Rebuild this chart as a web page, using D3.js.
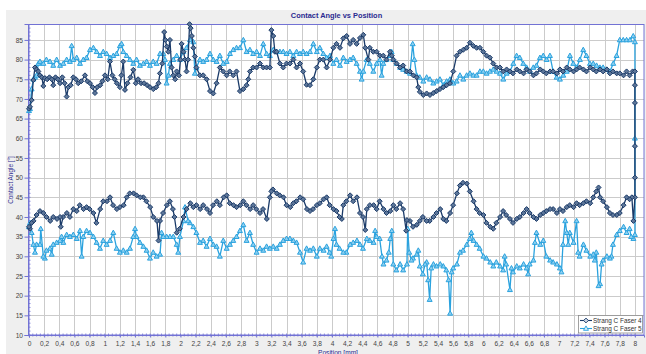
<!DOCTYPE html>
<html>
<head>
<meta charset="utf-8">
<script src="https://cdn.jsdelivr.net/npm/d3@7"></script>
<style>
  html, body { margin: 0; padding: 0; background: #ffffff; }
  svg { display: block; font-family: "Liberation Sans", Arial, sans-serif; }
</style>
</head>
<body>
<svg id="chart" width="646" height="354"></svg>
<script>
// ---- data: contact angle [°] over position [mm]; each series runs along the upper branch 0 → 8 mm, then back along the lower branch 8 → 0 mm
const seriesNames = ["Strang C Faser 4", "Strang C Faser 5"];

const faser4Upper = [
  [0,67.5],[0.013,68],[0.035,69.7],[0.057,74.8],[0.079,78],[0.1,77.5],[0.123,77],[0.145,76],[0.17,75.5],[0.189,73.3],
  [0.21,75.3],[0.24,75],[0.27,75.5],[0.3,75],[0.32,73.5],[0.35,75.5],[0.38,75],[0.41,74],[0.44,75.5],[0.47,74],
  [0.497,70.6],[0.52,73],[0.55,73.5],[0.585,75.5],[0.62,75],[0.65,74],[0.69,74.5],[0.739,76],[0.77,74.5],[0.805,74],
  [0.84,73],[0.871,71.5],[0.9,73],[0.94,73.5],[0.97,74.5],[1.003,76],[1.04,75],[1.069,79.5],[1.1,76],[1.13,75],
  [1.16,74],[1.2,73],[1.22,76],[1.245,79.5],[1.267,72.3],[1.3,74],[1.34,75.5],[1.377,77.4],[1.41,74],[1.44,75],
  [1.48,74],[1.52,74],[1.56,73.5],[1.597,73],[1.641,72.5],[1.68,73],[1.71,74],[1.729,76.5],[1.76,79],[1.785,87],
  [1.8,85],[1.82,83.3],[1.84,82],[1.861,85],[1.883,78],[1.905,76],[1.93,75],[1.949,77],[1.98,76],[2.0,80],
  [2.015,84],[2.04,82],[2.06,80],[2.08,77],[2.1,80],[2.12,89],[2.134,88],[2.15,86],[2.17,83],[2.19,80.8],
  [2.21,78],[2.257,76],[2.3,76],[2.345,75],[2.39,72],[2.433,71.4],[2.477,74],[2.52,78],[2.565,77],[2.61,76],
  [2.65,77],[2.697,76],[2.74,77],[2.785,72],[2.83,72.5],[2.873,73.5],[2.895,75],[2.917,77],[2.96,78],[3.005,78],
  [3.05,79],[3.093,78],[3.137,78],[3.18,78],[3.2,87.5],[3.225,86],[3.247,82],[3.27,82],[3.313,79],[3.357,78],
  [3.4,79],[3.445,79],[3.49,80],[3.533,78],[3.578,79],[3.62,77],[3.665,73.6],[3.71,73.5],[3.754,75],[3.8,78],
  [3.84,80],[3.886,80],[3.93,78],[3.974,80],[4.018,83],[4.06,84],[4.106,83],[4.15,85.4],[4.194,86],[4.238,84],
  [4.28,85],[4.326,84],[4.37,85.5],[4.414,86.3],[4.44,83],[4.48,80],[4.5,83],[4.546,82],[4.59,82],[4.634,81],
  [4.678,81],[4.72,80],[4.766,82],[4.79,81],[4.81,80],[4.854,79],[4.9,78],[4.94,78.5],[4.986,77],[5.03,77],
  [5.074,76],[5.118,75.5],[5.14,73],[5.16,71.8],[5.206,71],[5.25,71.4],[5.294,71],[5.338,71.5],[5.382,72],[5.426,72.5],
  [5.47,73],[5.514,73.5],[5.558,74],[5.602,77],[5.646,81],[5.69,82],[5.734,82.5],[5.778,83],[5.822,84.3],[5.866,83.5],
  [5.91,83],[5.954,83],[5.998,82],[6.042,81],[6.086,80.5],[6.13,79],[6.174,78],[6.218,78],[6.262,77],[6.306,77.5],
  [6.35,77],[6.39,76.5],[6.44,77.5],[6.48,77],[6.53,76.5],[6.57,77.5],[6.61,77],[6.66,76],[6.7,76.5],[6.75,77.5],
  [6.79,77],[6.83,76.5],[6.88,77],[6.92,77],[6.97,76.5],[7.01,77.5],[7.05,77],[7.1,78],[7.14,77.5],[7.19,77],
  [7.23,77.5],[7.27,78],[7.32,77.5],[7.36,77],[7.41,78],[7.45,77.5],[7.49,77],[7.54,77.5],[7.58,77],[7.63,77.5],
  [7.67,76.5],[7.71,77],[7.76,76.5],[7.8,76.5],[7.85,76],[7.89,77],[7.93,76],[7.97,77],[8.0,77]
];

const faser4Lower = [
  [8.0,73.5],[8.0,69],[8.0,58],[8.0,50],[8.0,45],[7.98,39],[7.96,45],[7.93,44.5],[7.89,45],[7.85,43],
  [7.8,41],[7.76,40.5],[7.71,40.5],[7.67,41],[7.63,42.5],[7.58,44],[7.54,45],[7.52,47.5],[7.49,46.5],[7.45,45],
  [7.41,43.5],[7.36,44],[7.32,43.5],[7.27,43],[7.23,43.5],[7.19,42.5],[7.14,43],[7.1,42.5],[7.05,41.5],[7.01,42],
  [6.97,41],[6.92,42],[6.88,42],[6.83,41.5],[6.79,41],[6.75,40.5],[6.7,39.5],[6.66,40],[6.61,41],[6.57,42],
  [6.53,41],[6.48,40],[6.44,39.5],[6.39,38.5],[6.35,39.5],[6.3,40.5],[6.26,41.5],[6.22,40],[6.17,38.5],[6.13,37],
  [6.09,37.5],[6.04,38.5],[6.0,40.5],[5.95,41],[5.91,42],[5.87,44],[5.82,46.5],[5.78,48.5],[5.73,48.7],[5.69,48],
  [5.65,46],[5.6,43],[5.56,41],[5.51,39],[5.47,39.5],[5.43,42],[5.38,41],[5.34,40],[5.29,39],[5.25,39],
  [5.2,40],[5.16,39],[5.12,38],[5.07,37.5],[5.03,39],[4.99,39.2],[4.98,36.5],[4.94,42],[4.9,43.5],[4.85,42],
  [4.81,43],[4.77,41.5],[4.72,41],[4.68,42],[4.63,44],[4.59,42],[4.55,43],[4.5,43],[4.46,42],[4.44,36.7],
  [4.41,40],[4.37,41],[4.33,45],[4.28,44],[4.24,45.5],[4.19,44],[4.15,43],[4.13,39.5],[4.1,40],[4.06,41.5],
  [4.02,42],[3.97,43],[3.93,45],[3.89,44.5],[3.84,43.5],[3.8,43],[3.75,42],[3.71,41.5],[3.67,42],[3.62,44.5],
  [3.58,45],[3.53,44],[3.49,43.5],[3.45,42.5],[3.4,43],[3.36,45],[3.31,45.5],[3.27,46],[3.22,47],[3.2,46.5],
  [3.18,45],[3.14,39.5],[3.09,42],[3.05,41],[3.0,42],[2.96,43],[2.92,42],[2.87,43],[2.83,44],[2.79,43],
  [2.74,42.5],[2.7,43],[2.65,43.5],[2.61,45.5],[2.57,45],[2.52,43],[2.48,44],[2.43,43],[2.39,41],[2.35,42],
  [2.3,43],[2.26,42],[2.21,43],[2.17,42.5],[2.13,43.5],[2.08,42],[2.04,40],[1.99,37],[1.95,36],[1.92,40],
  [1.9,42],[1.86,44],[1.82,43],[1.77,41],[1.73,39],[1.71,34],[1.69,39],[1.64,40],[1.6,42.5],[1.55,44],
  [1.51,45],[1.47,45],[1.42,45.5],[1.38,46],[1.33,46],[1.29,45],[1.25,43],[1.2,42.5],[1.16,42],[1.11,43],
  [1.07,45],[1.03,44],[0.98,44],[0.94,42],[0.89,38.5],[0.85,41],[0.8,42],[0.76,42.5],[0.72,42],[0.67,43],
  [0.63,41.5],[0.585,42],[0.54,40],[0.5,41],[0.45,40],[0.42,37.5],[0.41,40],[0.37,39.5],[0.32,40],[0.28,39],
  [0.23,40],[0.19,41],[0.145,41.5],[0.1,40.5],[0.06,39],[0.035,38.5],[0.013,37],[0,37.5]
];

const faser5Upper = [
  [0,67],[0.013,67.5],[0.035,72.5],[0.057,75],[0.079,75.5],[0.1,76],[0.123,79],[0.145,79.5],[0.189,79],[0.23,80],
  [0.277,79.5],[0.32,78.5],[0.365,80],[0.41,78.5],[0.453,79],[0.497,80],[0.54,79.5],[0.563,83.5],[0.585,80],[0.63,80.5],
  [0.673,79],[0.717,80],[0.76,80.5],[0.805,82.5],[0.85,83],[0.893,82],[0.937,81],[0.98,82],[1.025,81.5],[1.07,80.5],
  [1.113,81],[1.157,81.5],[1.2,83.5],[1.223,84],[1.245,82],[1.29,81],[1.333,80],[1.377,79],[1.42,80],[1.465,78.5],
  [1.51,79],[1.553,79.5],[1.597,78.5],[1.64,79.5],[1.685,79],[1.73,81.5],[1.773,81.5],[1.795,80],[1.817,74],[1.84,76],
  [1.861,79],[1.905,80],[1.95,81],[1.993,80],[2.037,82],[2.08,83],[2.125,85],[2.17,84.5],[2.19,76.5],[2.21,78],
  [2.257,80],[2.3,79.5],[2.345,80],[2.39,81.5],[2.433,80],[2.477,79.5],[2.52,81],[2.565,79],[2.61,79.5],[2.653,81.5],
  [2.697,82.5],[2.74,83],[2.785,83],[2.83,85],[2.873,82],[2.917,82.5],[2.96,81.5],[3.005,82],[3.05,81],[3.093,84],
  [3.137,81.5],[3.18,81],[3.225,82.5],[3.27,82],[3.313,82],[3.357,82],[3.4,81.5],[3.445,82],[3.49,81],[3.533,82],
  [3.578,81.5],[3.62,82],[3.665,81.5],[3.71,82],[3.754,84],[3.8,82],[3.84,83],[3.886,81.5],[3.93,80.5],[3.974,81],
  [4.018,79],[4.06,80],[4.106,78.5],[4.15,80.5],[4.194,79.5],[4.238,80],[4.28,80.5],[4.326,79],[4.37,77],[4.392,75],
  [4.414,77],[4.458,80],[4.5,79],[4.546,77],[4.59,79],[4.634,80],[4.656,76],[4.678,79],[4.72,80],[4.766,81],
  [4.788,82],[4.81,80],[4.854,79],[4.9,78],[4.94,77.5],[4.986,77],[5.03,76.5],[5.066,84],[5.088,80],[5.118,76],
  [5.16,75.5],[5.206,74.5],[5.25,75.5],[5.294,75],[5.338,74],[5.382,74.5],[5.426,75],[5.47,73.5],[5.514,74.5],[5.558,75],
  [5.602,74],[5.646,74.5],[5.69,76],[5.734,75],[5.778,76],[5.822,76.5],[5.866,76],[5.91,76],[5.954,77],[5.998,77],
  [6.042,76.5],[6.086,77],[6.13,77.5],[6.174,77],[6.218,76.5],[6.262,75],[6.306,76.5],[6.35,77],[6.394,79],[6.438,81],
  [6.48,80.5],[6.526,79],[6.57,78],[6.614,77],[6.658,78],[6.7,78.5],[6.746,80.5],[6.79,81],[6.834,80],[6.878,81],
  [6.92,77],[6.966,75.5],[7.01,75],[7.054,76],[7.1,77],[7.142,81],[7.186,79],[7.23,78],[7.274,80],[7.318,82.5],
  [7.36,81],[7.406,79],[7.45,79],[7.494,78.5],[7.538,78],[7.58,78],[7.626,77.5],[7.67,77],[7.714,79],[7.758,81],
  [7.8,85],[7.846,85],[7.89,85],[7.934,85],[7.978,86],[8.0,84.5]
];

const faser5Lower = [
  [8.0,60],[8.0,35.5],[7.98,34.5],[7.95,35],[7.93,37],[7.89,36],[7.85,37.5],[7.8,36.5],[7.76,35.5],[7.71,33],
  [7.69,30],[7.67,29.5],[7.63,30],[7.58,29],[7.56,28],[7.54,23],[7.52,22.5],[7.49,31],[7.47,29],[7.45,30.5],
  [7.41,30],[7.36,31.5],[7.32,33],[7.27,30],[7.25,31],[7.23,39],[7.19,33.5],[7.14,36],[7.12,33],[7.1,36],
  [7.08,39],[7.05,33],[7.03,26],[7.01,27],[6.97,28],[6.92,28.5],[6.88,29],[6.83,30],[6.79,34],[6.75,33],
  [6.7,36],[6.68,33.5],[6.66,29],[6.61,28],[6.59,25.5],[6.57,27],[6.53,28],[6.48,27],[6.44,27.5],[6.39,26],
  [6.37,27],[6.35,21.5],[6.3,28],[6.28,30],[6.26,26.5],[6.22,27.5],[6.17,28.5],[6.13,27.5],[6.09,28.5],[6.04,29.5],
  [6.0,30],[5.95,32],[5.91,33],[5.87,34],[5.84,36],[5.82,34.5],[5.78,33],[5.73,31.5],[5.69,31],[5.65,28],
  [5.6,27],[5.58,26],[5.56,15.5],[5.54,24],[5.51,26.5],[5.47,27.5],[5.43,28],[5.38,27.5],[5.34,28],[5.31,27],
  [5.29,19],[5.27,24],[5.25,28.5],[5.23,28],[5.2,25.5],[5.16,27.5],[5.14,31.5],[5.12,30.5],[5.07,29.5],[5.05,29],
  [5.02,31],[5.0,37],[4.99,28],[4.94,26.5],[4.9,28],[4.85,26.5],[4.81,28],[4.79,36.5],[4.77,34.5],[4.75,31],
  [4.72,29],[4.68,28],[4.66,30],[4.63,34.5],[4.59,35],[4.57,36.5],[4.55,33.5],[4.5,34],[4.46,34.5],[4.41,32],
  [4.37,33],[4.33,34],[4.28,33.5],[4.24,33],[4.19,31],[4.15,31],[4.1,32],[4.06,33],[4.04,37],[4.02,34.5],
  [3.99,30],[3.97,31],[3.93,32.5],[3.89,31.5],[3.84,32],[3.8,30],[3.754,32],[3.71,31.5],[3.665,32],[3.62,28.5],
  [3.578,31],[3.533,33.5],[3.49,34],[3.445,34.5],[3.4,34.5],[3.357,34],[3.313,33],[3.27,32],[3.225,32.5],[3.18,32],
  [3.137,32.5],[3.093,31.5],[3.05,32],[3.005,31],[2.96,33],[2.917,36],[2.873,34],[2.83,38],[2.785,36.5],[2.74,35],
  [2.697,34],[2.653,33],[2.61,32],[2.565,34],[2.52,30],[2.477,32.5],[2.433,33],[2.39,34.5],[2.345,32.5],[2.3,34],
  [2.257,33.5],[2.21,36],[2.17,37.5],[2.125,38.5],[2.1,39],[2.06,42.5],[2.04,39],[1.993,35],[1.97,31],[1.95,33],
  [1.905,35],[1.861,35],[1.817,35],[1.773,35],[1.75,36],[1.73,30.5],[1.685,30],[1.64,31],[1.597,29.5],[1.553,31.5],
  [1.51,32.5],[1.465,33.5],[1.42,35],[1.4,37],[1.377,35],[1.333,32],[1.29,31],[1.245,31.5],[1.2,31],[1.157,32],
  [1.113,36],[1.07,34],[1.025,33],[0.98,34],[0.937,32],[0.893,33.5],[0.85,35],[0.805,36],[0.76,36.5],[0.717,35],
  [0.695,30],[0.673,36.5],[0.63,34.5],[0.585,35.5],[0.54,35],[0.497,35.5],[0.453,33.5],[0.43,35],[0.41,34],[0.365,33.5],
  [0.32,33],[0.3,30.5],[0.277,32],[0.23,31.5],[0.21,29.5],[0.189,30],[0.155,37],[0.145,33],[0.1,33],[0.079,31],
  [0.057,33],[0.035,36],[0.013,38.5],[0,37.5]
];

// axis ticks
const xTicks = d3.range(0, 41).map(i => +(i * 0.2).toFixed(1));
const yTicks = [10, 15, 20, 25, 30, 35, 40, 45, 50, 55, 60, 65, 70, 75, 80, 85];
const titleText = "Contact Angle vs Position";
const xLabel = "Position [mm]";
const yLabel = "Contact Angle [°]";

// ---- layout
const W = 646, H = 354;
const plot = { left: 28.5, right: 644, top: 24, bottom: 335 };
const colors = { f4: "#1a3a68", f5: "#2aa2de", axis: "#7272d4", grid: "#cbcbcb", text: "#444", title: "#2a2a90" };
const markerFill = { f4: "#5d7699", f5: "#8fd0f0" };

const svg = d3.select("#chart");

svg.append("rect").attr("x", 6).attr("y", 10).attr("width", W - 6).attr("height", H - 10).attr("fill", "#efefef");

const x = d3.scaleLinear().domain([0, 8.12]).range([29, plot.right]);
const y = d3.scaleLinear().domain([10, 89.05]).range([plot.bottom, plot.top]);

svg.append("rect").attr("x", plot.left).attr("y", plot.top)
  .attr("width", plot.right - plot.left).attr("height", plot.bottom - plot.top).attr("fill", "#ffffff");

// grid
const grid = svg.append("g");
grid.selectAll("line.v").data(xTicks.slice(1)).enter().append("line")
  .attr("x1", d => Math.round(x(d)) + 0.5).attr("x2", d => Math.round(x(d)) + 0.5)
  .attr("y1", plot.top).attr("y2", plot.bottom).attr("stroke", colors.grid).attr("stroke-width", 1);
grid.selectAll("line.h").data(yTicks.slice(1)).enter().append("line")
  .attr("y1", d => Math.round(y(d)) + 0.5).attr("y2", d => Math.round(y(d)) + 0.5)
  .attr("x1", plot.left).attr("x2", plot.right).attr("stroke", colors.grid).attr("stroke-width", 1);

// plot frame
svg.append("rect").attr("x", plot.left).attr("y", plot.top + 0.5)
  .attr("width", plot.right - plot.left).attr("height", plot.bottom - plot.top - 0.5)
  .attr("fill", "none").attr("stroke", colors.axis).attr("stroke-width", 1);

const fmt = d => String(d).replace(".", ",");

// x axis
const xAxis = d3.axisBottom(x).tickValues(xTicks).tickFormat(fmt).tickSize(2.5).tickPadding(3.5);
const gx = svg.append("g").attr("transform", `translate(0,${plot.bottom})`).call(xAxis);
gx.select(".domain").attr("stroke", colors.axis);
gx.selectAll(".tick line").attr("stroke", colors.axis);
gx.selectAll("text").attr("fill", colors.text).attr("font-size", 6.6).attr("font-family", "Liberation Sans, Arial");
const xMinor = d3.range(0, 161).map(i => i * 0.05);
svg.append("g").selectAll("line").data(xMinor).enter().append("line")
  .attr("x1", d => x(d)).attr("x2", d => x(d)).attr("y1", plot.bottom - 1.5).attr("y2", plot.bottom + 1.5)
  .attr("stroke", colors.axis).attr("stroke-width", 0.8);

// y axis
const yAxis = d3.axisLeft(y).tickValues(yTicks).tickFormat(d => d).tickSize(4).tickPadding(1.5);
const gy = svg.append("g").attr("transform", `translate(${plot.left},0)`).call(yAxis);
gy.select(".domain").attr("stroke", colors.axis);
gy.selectAll(".tick line").attr("stroke", colors.axis);
gy.selectAll("text").attr("fill", colors.text).attr("font-size", 6.6).attr("font-family", "Liberation Sans, Arial");
const yMinor = d3.range(10, 89);
svg.append("g").selectAll("line").data(yMinor).enter().append("line")
  .attr("y1", d => y(d)).attr("y2", d => y(d)).attr("x1", plot.left).attr("x2", plot.left + 2)
  .attr("stroke", colors.axis).attr("stroke-width", 0.8);

// title and axis labels
svg.append("text").attr("x", 336.5).attr("y", 17.5).attr("text-anchor", "middle")
  .attr("font-size", 7.4).attr("font-weight", "bold").attr("fill", colors.title).text(titleText);
svg.append("text").attr("transform", "translate(12.5,180) rotate(-90)").attr("text-anchor", "middle")
  .attr("font-size", 6.4).attr("fill", colors.title).text(yLabel);
svg.append("text").attr("x", 338).attr("y", 354.5).attr("text-anchor", "middle")
  .attr("font-size", 6.6).attr("fill", colors.title).text(xLabel);

// markers
const diamond = r => `M0,${-r}L${r},0L0,${r}L${-r},0Z`;
const triangle = r => `M0,${-r}L${r * 0.95},${r * 0.7}L${-r * 0.95},${r * 0.7}Z`;

const series = [
  { name: seriesNames[1], pts: faser5Upper.concat(faser5Lower), color: colors.f5, fill: markerFill.f5, shape: triangle(2.6) },
  { name: seriesNames[0], pts: faser4Upper.concat(faser4Lower), color: colors.f4, fill: markerFill.f4, shape: diamond(2.5) }
];

const line = d3.line().x(d => x(d[0])).y(d => y(d[1]));
series.forEach(s => {
  const g = svg.append("g");
  g.append("path").datum(s.pts).attr("d", line).attr("fill", "none")
    .attr("stroke", s.color).attr("stroke-width", 1.3).attr("stroke-linejoin", "round");
  g.selectAll("path.m").data(s.pts).enter().append("path")
    .attr("transform", d => `translate(${x(d[0])},${y(d[1])})`)
    .attr("d", s.shape).attr("fill", s.fill).attr("stroke", s.color).attr("stroke-width", 1);
});

// legend
const lg = svg.append("g");
lg.append("rect").attr("x", 578.5).attr("y", 315.5).attr("width", 64).attr("height", 17.5)
  .attr("fill", "#ffffff").attr("stroke", "#8a8a8a").attr("stroke-width", 0.8);
const legendItems = [
  { name: seriesNames[0], color: colors.f4, fill: "#c9d3e2", shape: diamond(2.4) },
  { name: seriesNames[1], color: colors.f5, fill: "#d6eefa", shape: triangle(2.6) }
];
legendItems.forEach((it, i) => {
  const cy = 320.5 + i * 8;
  lg.append("line").attr("x1", 580).attr("x2", 592).attr("y1", cy).attr("y2", cy)
    .attr("stroke", it.color).attr("stroke-width", 1.1);
  lg.append("path").attr("transform", `translate(586,${cy})`).attr("d", it.shape)
    .attr("fill", it.fill).attr("stroke", it.color).attr("stroke-width", 0.9);
  lg.append("text").attr("x", 593).attr("y", cy + 2.3).attr("font-size", 6.4)
    .attr("fill", "#333").text(it.name);
});
</script>
</body>
</html>
